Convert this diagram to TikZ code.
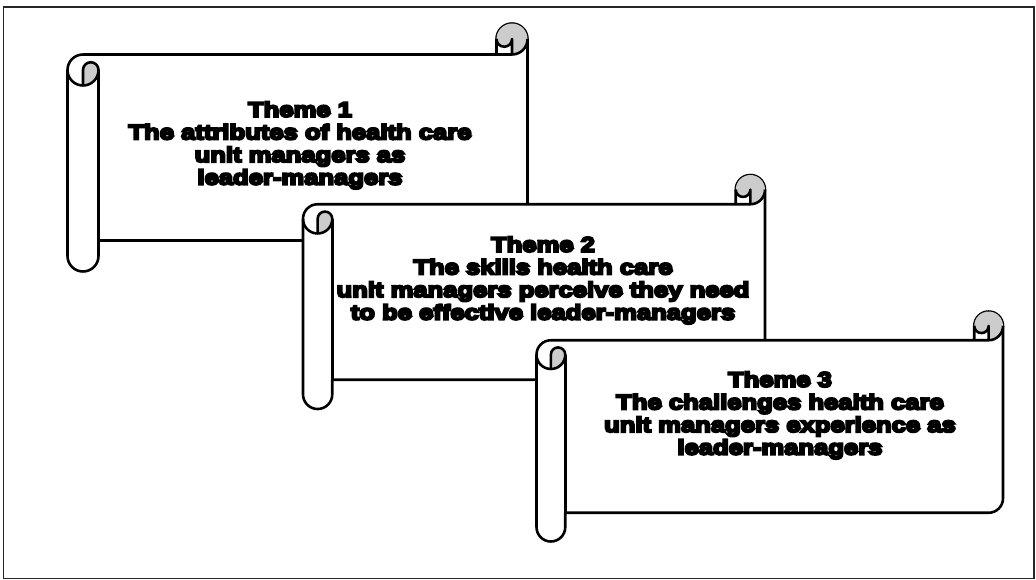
\documentclass[tikz,border=0pt]{standalone}
\usepackage{fontspec}
\newfontfamily\heavyfont{Liberation Sans}[BoldFeatures={FakeBold=10,FakeStretch=1.22}]
\usepackage{tikz}
\usetikzlibrary{calc}
% scroll banner: \scroll(left,top,right,bottom)
\def\scroll(#1,#2,#3,#4){%
	\pgfmathsetmacro\rollD{min(#3-#1,#2-#4)/8}%
	\pgfmathsetmacro\rollR{\rollD/2}%
	\pgfmathsetmacro\rollQ{\rollD/4}%
	% body
	\filldraw[scrollline, fill=white] (#1, #2-1.5*\rollD) arc (180:90:\rollR)
		-- (#3-\rollD, #2-\rollD) -- (#3-\rollD, #2-\rollR) arc (180:0:\rollR)
		-- (#3, #4+1.5*\rollD) arc (0:-90:\rollR)
		-- (#1+\rollD, #4+\rollD) -- (#1+\rollD, #4+\rollR) arc (0:-180:\rollR) -- cycle;
	% shaded curls
	\fill[curl] (#1+\rollR, #2-2*\rollD) arc (-90:0:\rollR) arc (0:180:\rollQ) -- cycle;
	\fill[curl] (#3-\rollD, #2-\rollR) arc (180:0:\rollR) arc (0:-90:\rollR)
		-- (#3-\rollR, #2-\rollR) arc (0:-180:\rollQ) -- cycle;
	% curl lines
	\draw[scrollline] (#3-\rollD, #2-\rollD) -- (#3-\rollR, #2-\rollD) arc (-90:0:\rollR);
	\draw[scrollline] (#3-\rollR, #2-\rollD) -- (#3-\rollR, #2-\rollR) arc (0:-180:\rollQ);
	\draw[scrollline] (#1+\rollR, #2-2*\rollD) -- (#1+\rollR, #2-1.5*\rollD) arc (180:0:\rollQ) arc (0:-180:\rollR);
	\draw[scrollline] (#1+\rollD, #2-1.5*\rollD) -- (#1+\rollD, #4+\rollD);
}

\begin{document}
\begin{tikzpicture}[x=1pt, y=1pt,
		scrollline/.style={line width=0.9mm, line join=round},
		curl/.style={fill=black!20},
		themetext/.style={font=\heavyfont\bfseries\fontsize{21}{22.6}\selectfont, align=center, inner sep=0pt}]
			%%%%% START %%%%%
			\useasboundingbox (0, 0) rectangle (1036, -580);
			\draw[line width=0.6mm, color=black!85] (3.5, -7) rectangle (1034, -578.5);
			
			\scroll(67.5, -23.5, 527.5, -271.5)
			\node[themetext] (theme1) at (300, -145.3) {Theme 1\\The attributes of health care\\unit managers as\\leader-managers};
			
			\scroll(303, -175, 765, -409)
			\node[themetext] (theme2) at (543, -280.3) {Theme 2\\The skills health care\\unit managers perceive they need\\to be effective leader-managers};
			
			\scroll(536.5, -311.5, 1003, -541.5)
			\node[themetext] (theme3) at (780, -415.3) {Theme 3\\The challenges health care\\unit managers experience as\\leader-managers};
			%%%%% END %%%%%
		\end{tikzpicture}
\end{document}
